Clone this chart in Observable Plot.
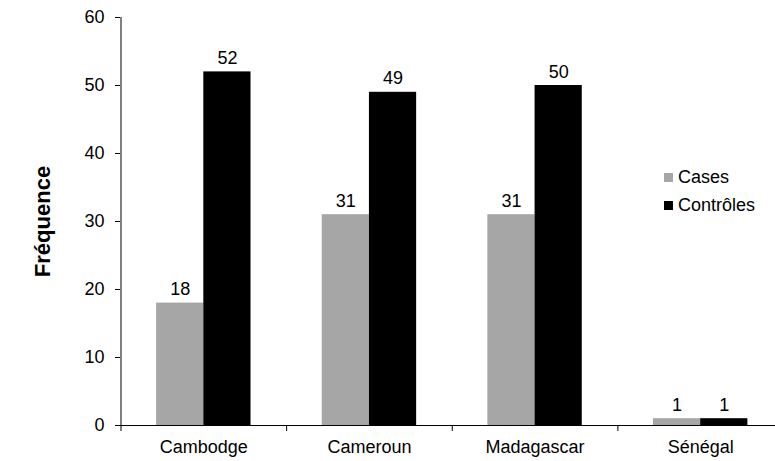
<!DOCTYPE html>
<html>
<head>
<meta charset="utf-8">
<script src="https://cdn.jsdelivr.net/npm/d3@7"></script>
<script src="https://cdn.jsdelivr.net/npm/@observablehq/plot@0.6"></script>
<style>
  html, body { margin: 0; padding: 0; background: #fff; }
  #chart { position: relative; width: 775px; height: 461px; font-family: "Liberation Sans", Arial, sans-serif; }
  .legend { position: absolute; left: 664px; top: 163px; font-size: 18px; line-height: 28px; color: #000; }
  .legend .item { display: flex; align-items: center; white-space: nowrap; }
  .legend .sw { width: 9px; height: 9px; margin-right: 5px; }
</style>
</head>
<body>
<div id="chart"></div>
<script>
// Fréquence par pays : cas et contrôles
const countries = ["Cambodge", "Cameroun", "Madagascar", "Sénégal"];
const series = ["Cases", "Contrôles"];
const cases = [18, 31, 31, 1];
const controles = [52, 49, 50, 1];
const yTicks = [0, 10, 20, 30, 40, 50, 60];
const colors = ["#a6a6a6", "#000000"];

// one row per bar; the country index drives the linear x scale
const rows = [];
countries.forEach((c, i) => {
  rows.push({country: c, i, series: series[0], value: cases[i]});
  rows.push({country: c, i, series: series[1], value: controles[i]});
});

// bar width as a fraction of one category slot; the pair is centred on the slot
const barW = 0.285;
const x1 = d => d.series === series[0] ? d.i + 0.5 - barW : d.i + 0.5;
const x2 = d => d.series === series[0] ? d.i + 0.5 : d.i + 0.5 + barW;

const font = "'Liberation Sans', Arial, sans-serif";

const chart = Plot.plot({
  width: 775,
  height: 461,
  marginTop: 17,
  marginBottom: 36,
  marginLeft: 120,
  marginRight: 0,
  style: {fontFamily: font, fontSize: "18px", color: "#000", background: "#fff"},
  x: {domain: [0, countries.length], range: [120.5, 783]},
  y: {domain: [0, 60]},
  color: {domain: series, range: colors},
  marks: [
    Plot.rectY(rows, {x1, x2, y1: 0, y2: "value", fill: "series"}),
    Plot.text(rows, {
      x: d => (x1(d) + x2(d)) / 2, y: "value", text: d => String(d.value),
      lineAnchor: "bottom", dy: -8, fontSize: 18, fill: "#000"
    }),
    Plot.ruleY([0], {stroke: "#000", strokeWidth: 1}),
    Plot.ruleX([0], {stroke: "#000", strokeWidth: 1}),
    Plot.axisY({ticks: yTicks, tickSize: 5, tickPadding: 11, fontSize: 18, label: null}),
    Plot.axisX({ticks: d3.range(0, countries.length + 1), tickSize: 6, tickFormat: () => "", label: null}),
    Plot.axisX({
      ticks: countries.map((_, i) => i + 0.5), tickSize: 0, tickPadding: 15, fontSize: 18,
      tickFormat: d => countries[Math.floor(d)], label: null
    }),
    Plot.text(["Fréquence"], {
      frameAnchor: "left", textAnchor: "middle", lineAnchor: "middle", dx: -78, rotate: -90,
      fontWeight: "bold", fontSize: 22, fill: "#000"
    })
  ]
});

const root = document.getElementById("chart");
root.appendChild(chart);

// legend overlaid on the right of the plot area
const legend = document.createElement("div");
legend.className = "legend";
series.forEach((s, k) => {
  const item = document.createElement("div");
  item.className = "item";
  const sw = document.createElement("span");
  sw.className = "sw";
  sw.style.background = colors[k];
  const label = document.createElement("span");
  label.textContent = s;
  item.appendChild(sw);
  item.appendChild(label);
  legend.appendChild(item);
});
root.appendChild(legend);
</script>
</body>
</html>
